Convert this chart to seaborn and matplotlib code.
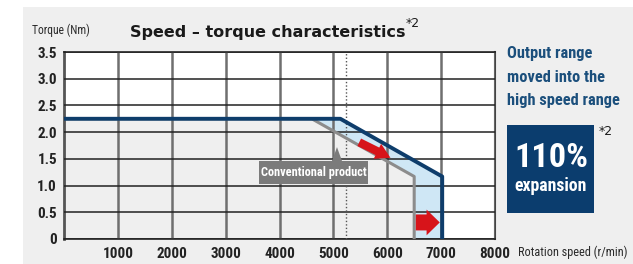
import os
import matplotlib
matplotlib.use("Agg")
import matplotlib.pyplot as plt
import seaborn as sns
import pandas as pd
import numpy as np
from matplotlib import font_manager
from matplotlib.font_manager import FontProperties
from matplotlib.patches import Rectangle, FancyArrowPatch, Polygon

# ---- data ----
conv_speed = [0, 4600, 6500, 6500]
conv_torque = [2.25, 2.25, 1.17, 0.0]
new_speed = [0, 5130, 7020, 7020]
new_torque = [2.25, 2.25, 1.17, 0.0]
x_ticks = [1000, 2000, 3000, 4000, 5000, 6000, 7000, 8000]
y_ticks = [0, 0.5, 1.0, 1.5, 2.0, 2.5, 3.0, 3.5]
y_tick_labels = ["0", "0.5", "1.0", "1.5", "2.0", "2.5", "3.0", "3.5"]
ref_speed = 5230
arrow1 = [(5480, 1.81), (6060, 1.52)]
arrow2 = [(6530, 0.31), (6975, 0.31)]
label_box = (3615, 1.03, 2030, 0.43)
pointer = [(4975, 1.46), (5160, 1.46), (5067, 1.72)]

sns.set_theme(style="white")


# ---- fonts: look for a condensed family ----
def _weight(f):
    w = f.weight
    if isinstance(w, (int, float)):
        return int(w)
    w = str(w).lower()
    return 700 if ("bold" in w or "heavy" in w or "black" in w) else 400


PRIORITY = [("LiberationSansNarrow", 1.0), ("NotoSans-Condensed", 1.0),
            ("NotoSansCondensed", 1.0), ("RobotoCondensed", 0.95),
            ("OpenSans-Condensed", 0.95), ("OpenSansCondensed", 0.95),
            ("DejaVuSansCondensed", 0.84)]


def find_narrow(bold):
    ents = [f for f in font_manager.fontManager.ttflist if f.style == "normal"]
    for key, scale in PRIORITY:
        cands = []
        for f in ents:
            base = os.path.basename(f.fname).replace(" ", "")
            if base.startswith(key) and "Extra" not in base and "Semi" not in base \
                    and "Italic" not in base:
                cands.append(f)
        if not cands:
            continue
        target = 700 if bold else 400
        cands.sort(key=lambda f: abs(_weight(f) - target))
        return cands[0].fname, scale
    return None, 0.86


fn_reg, sc = find_narrow(False)
fn_bold, sc_b = find_narrow(True)


def fp(size, bold=False):
    fn = fn_bold if bold else fn_reg
    if fn:
        return FontProperties(fname=fn, size=size * (sc_b if bold else sc))
    return FontProperties(family=["Roboto", "DejaVu Sans"], size=size * 0.86,
                          weight="bold" if bold else "normal")


W, H = 633, 264
fig = plt.figure(figsize=(W / 100, H / 100), dpi=100)
fig.patch.set_facecolor("white")
fig.add_artist(Rectangle((23 / W, 0), 1 - 23 / W, (H - 7) / H,
                         transform=fig.transFigure, fc="#efefef", ec="none", zorder=0))

ax = fig.add_axes([64 / W, (H - 239) / H, 431 / W, 187 / H])
ax.set_facecolor("white")

df_conv = pd.DataFrame({"speed": conv_speed, "torque": conv_torque})
df_new = pd.DataFrame({"speed": new_speed, "torque": new_torque})

ax.fill_between(conv_speed, conv_torque, 0, color="#efefef", lw=0, zorder=1)
ax.fill(np.r_[new_speed, conv_speed[::-1]], np.r_[new_torque, conv_torque[::-1]],
        color="#cfe7f5", lw=0, zorder=1)

sns.lineplot(data=df_conv, x="speed", y="torque", sort=False, estimator=None,
             color="#8c8c8c", lw=2.2, ax=ax, zorder=3)
sns.lineplot(data=df_new, x="speed", y="torque", sort=False, estimator=None,
             color="#0e3d6b", lw=2.8, ax=ax, zorder=3.2)

ax.axvline(ref_speed, color="#555555", lw=1.0, ls=(0, (1, 1.5)), zorder=2.6)

ax.set_xlim(0, 8000)
ax.set_ylim(0, 3.5)
ax.set_xticks(x_ticks)
ax.set_xticklabels([str(t) for t in x_ticks])
ax.set_yticks(y_ticks)
ax.set_yticklabels(y_tick_labels)
ax.set_xlabel("")
ax.set_ylabel("")
ax.set_axisbelow(False)
ax.yaxis.grid(True, color="#222222", lw=1.1)
ax.xaxis.grid(True, color="#6f6f6f", lw=1.8)
ax.tick_params(axis="both", length=0)
ax.tick_params(axis="x", pad=6)
ax.tick_params(axis="y", pad=5)
for lab in ax.get_xticklabels() + ax.get_yticklabels():
    lab.set_fontproperties(fp(11.5, True))
    lab.set_color("#222222")
for s in ["top", "bottom"]:
    ax.spines[s].set_color("#222222")
    ax.spines[s].set_linewidth(1.2)
ax.spines["left"].set_color("#555555")
ax.spines["left"].set_linewidth(2.0)
ax.spines["right"].set_color("#444444")
ax.spines["right"].set_linewidth(1.5)

# red arrows
for (a, b), (hw, hl, tw) in [(arrow1, (1.2, 1.05, 0.6)), (arrow2, (1.85, 0.95, 1.15))]:
    ax.add_patch(FancyArrowPatch(a, b, arrowstyle=f"simple,head_length={hl},head_width={hw},tail_width={tw}",
                                 mutation_scale=10, color="#d7141a", lw=0, zorder=4,
                                 shrinkA=0, shrinkB=0))

# conventional product label
ax.add_patch(Rectangle(label_box[:2], label_box[2], label_box[3], fc="#7b7b7b",
                       ec="none", zorder=5))
ax.add_patch(Polygon(pointer, closed=True, fc="#7b7b7b", ec="none", zorder=5))
ax.text(label_box[0] + label_box[2] / 2, label_box[1] + label_box[3] / 2,
        "Conventional product", color="white", fontproperties=fp(9.4, True),
        ha="center", va="center", zorder=6)

# texts
fig.text(130 / W, 1 - 37 / H, "Speed – torque characteristics", fontfamily="DejaVu Sans",
         fontweight="bold", fontsize=11.5, color="#1a1a1a", ha="left", va="baseline")
fig.text(406 / W, 1 - 17 / H, "*2", fontsize=9, fontfamily="DejaVu Sans", color="#1a1a1a",
         ha="left", va="top")
fig.text(32 / W, 1 - 34 / H, "Torque (Nm)", fontproperties=fp(8.8), color="#2a2a2a",
         ha="left", va="baseline")
fig.text(518 / W, 1 - 252 / H, "Rotation speed (r/min)", fontproperties=fp(9.3),
         color="#2a2a2a", ha="left", va="center")

blue_txt = "#1b4f7c"
for txt, base in [("Output range", 58), ("moved into the", 82), ("high speed range", 105)]:
    fig.text(507 / W, 1 - base / H, txt, fontproperties=fp(12.4, True), color=blue_txt,
             ha="left", va="baseline")

fig.add_artist(Rectangle((507 / W, 1 - 213 / H), 87 / W, 88 / H, transform=fig.transFigure,
                         fc="#0b3d6e", ec="none", zorder=1))
fig.text(551 / W, 1 - 167 / H, "110%", fontproperties=fp(26, True), color="white",
         ha="center", va="baseline", zorder=2)
fig.text(551 / W, 1 - 191 / H, "expansion", fontproperties=fp(13.5, True), color="white",
         ha="center", va="baseline", zorder=2)
fig.text(599 / W, 1 - 125 / H, "*2", fontsize=9, fontfamily="DejaVu Sans", color="#1a1a1a",
         ha="left", va="top")

fig.savefig("out.png", dpi=100, facecolor=fig.get_facecolor())
